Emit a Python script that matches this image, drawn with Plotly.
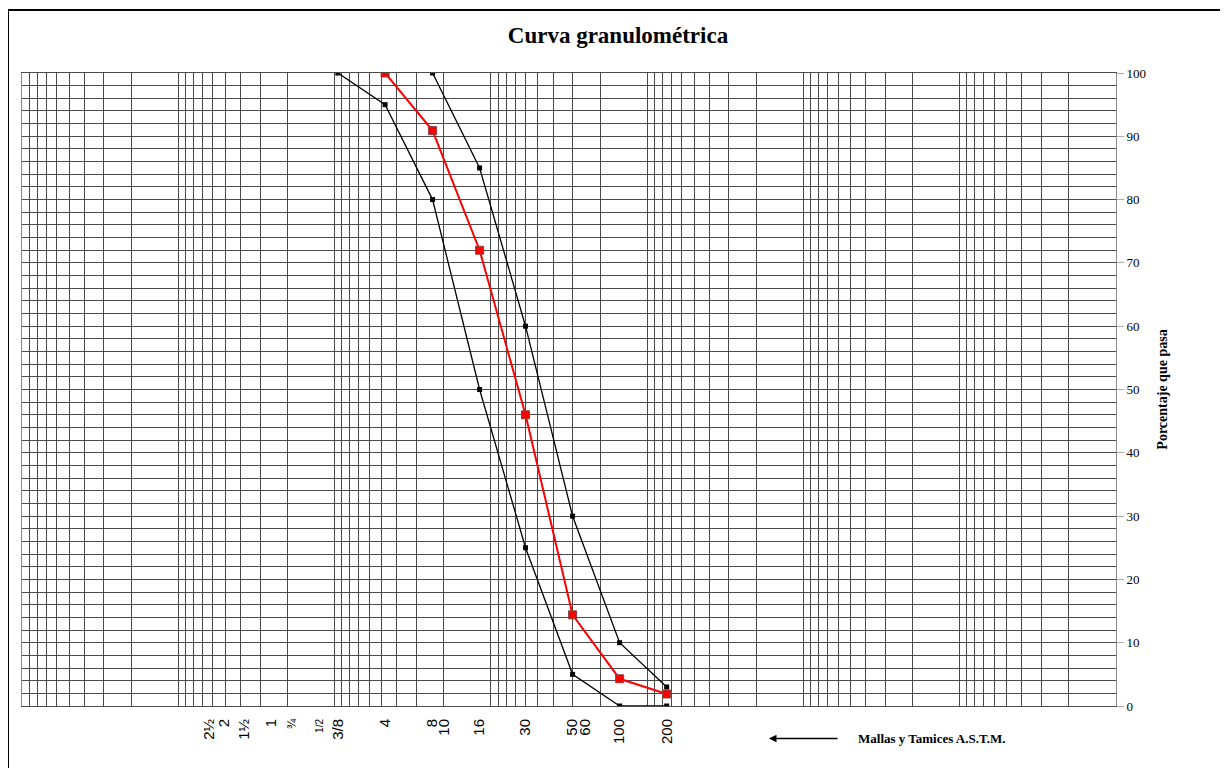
import numpy as np
import plotly.graph_objects as go

# Tamices A.S.T.M. (abertura en mm) y su nombre
tamiz_mm = [63.5, 50.8, 38.1, 25.4, 19.05, 12.7, 9.525, 4.75, 2.36, 2.0, 1.18, 0.6, 0.3, 0.25, 0.15, 0.075]
tamiz_lbl = ['2½', '2', '1½', '1', "<span style='font-size:12px'>¾</span>",
             "<span style='font-size:10px'>1/2</span>", '3/8', '4', '8', '10', '16', '30',
             '50', '60', '100', '200']

# Limite superior del huso
sup_mm = [2.36, 1.18, 0.6, 0.3, 0.15, 0.075]
sup_pasa = [100, 85, 60, 30, 10, 3]

# Limite inferior del huso
inf_mm = [9.525, 4.75, 2.36, 1.18, 0.6, 0.3, 0.15, 0.075]
inf_pasa = [100, 95, 80, 50, 25, 5, 0, 0]

# Muestra ensayada
mue_mm = [4.75, 2.36, 1.18, 0.6, 0.3, 0.15, 0.075]
mue_pasa = [100, 90.9, 72, 46, 14.4, 4.3, 1.9]

SERIF = 'Liberation Serif'
SANS = 'Liberation Sans'
GRID = '#4a4a4a'

# la pagina deja 8px de margen: el area de trazado va de x=22..1116, y=73..706 en pantalla
L, T, PW, PH = 14, 65, 1094, 633
W, H = 1212, 760

def px_x(x):
    return (x - 8 - L) / PW

def px_y(y):
    return (T + PH - (y - 8)) / PH

# lineas de papel logaritmico 1..9 por decada, 0.0001 a 1000 mm
grid_x = [d * 10.0 ** e for e in range(-4, 3) for d in range(1, 10)] + [1000]

fig = go.Figure()
fig.add_trace(go.Scatter(x=inf_mm, y=inf_pasa, mode='lines+markers',
                         line=dict(color='black', width=1.3),
                         marker=dict(symbol='square', size=5, color='black')))
fig.add_trace(go.Scatter(x=sup_mm, y=sup_pasa, mode='lines+markers',
                         line=dict(color='black', width=1.3),
                         marker=dict(symbol='square', size=5, color='black')))
fig.add_trace(go.Scatter(x=mue_mm, y=mue_pasa, mode='lines+markers',
                         line=dict(color='#ff0000', width=2),
                         marker=dict(symbol='square', size=8, color='#ff0000',
                                     line=dict(color='#8a4040', width=1))))

fig.update_xaxes(type='log', range=[3, -4], autorange=False,
                 tickmode='array', tickvals=tamiz_mm, ticktext=tamiz_lbl,
                 tickangle=-90, ticks='', showgrid=False, zeroline=False,
                 ticklabelstandoff=6,
                 tickfont=dict(family=SANS, size=15, color='black'),
                 showline=True, mirror=True, linecolor=GRID, linewidth=1,
                 minor=dict(tickmode='array', tickvals=grid_x, showgrid=True,
                            gridcolor=GRID, gridwidth=1, ticks=''),
                 automargin=False)
fig.update_yaxes(side='right', range=[0, 100], autorange=False,
                 tickmode='linear', tick0=0, dtick=10,
                 ticks='outside', ticklen=7, tickcolor='#aaaaaa',
                 showgrid=True, gridcolor=GRID, gridwidth=1, zeroline=False,
                 minor=dict(dtick=2, showgrid=True, gridcolor=GRID, gridwidth=1),
                 showline=True, mirror=True, linecolor='#8a8a8a', linewidth=1,
                 tickfont=dict(family=SERIF, size=13, color='black'),
                 title=dict(text='<b>Porcentaje que pasa</b>', standoff=12,
                            font=dict(family=SERIF, size=14, color='black')),
                 automargin=False)

# marco exterior del grafico
fig.add_shape(type='rect', xref='paper', yref='paper',
              x0=px_x(8), x1=px_x(1240), y0=px_y(790), y1=px_y(10),
              line=dict(color='black', width=2), fillcolor='rgba(0,0,0,0)')

fig.add_annotation(xref='paper', yref='paper', x=px_x(769), y=px_y(738.5),
                   ax=70, ay=0, text='', showarrow=True, arrowhead=2,
                   arrowsize=1, arrowwidth=1.5, arrowcolor='black')
fig.add_annotation(xref='paper', yref='paper', x=px_x(856), y=px_y(738.5),
                   xanchor='left', yanchor='middle', showarrow=False,
                   text='<b>Mallas y Tamices A.S.T.M.</b>',
                   font=dict(family=SERIF, size=13, color='black'))

fig.update_layout(
    width=W, height=H, template='none',
    margin=dict(l=L, r=W - L - PW, t=T, b=H - T - PH),
    paper_bgcolor='white', plot_bgcolor='white',
    showlegend=False,
    title=dict(text='<b>Curva granulométrica</b>', x=(618 - 8) / W, xref='container',
               xanchor='center', y=1 - (35 - 8) / H, yanchor='middle',
               font=dict(family=SERIF, size=23, color='black')),
)

fig.write_html('out.html')
